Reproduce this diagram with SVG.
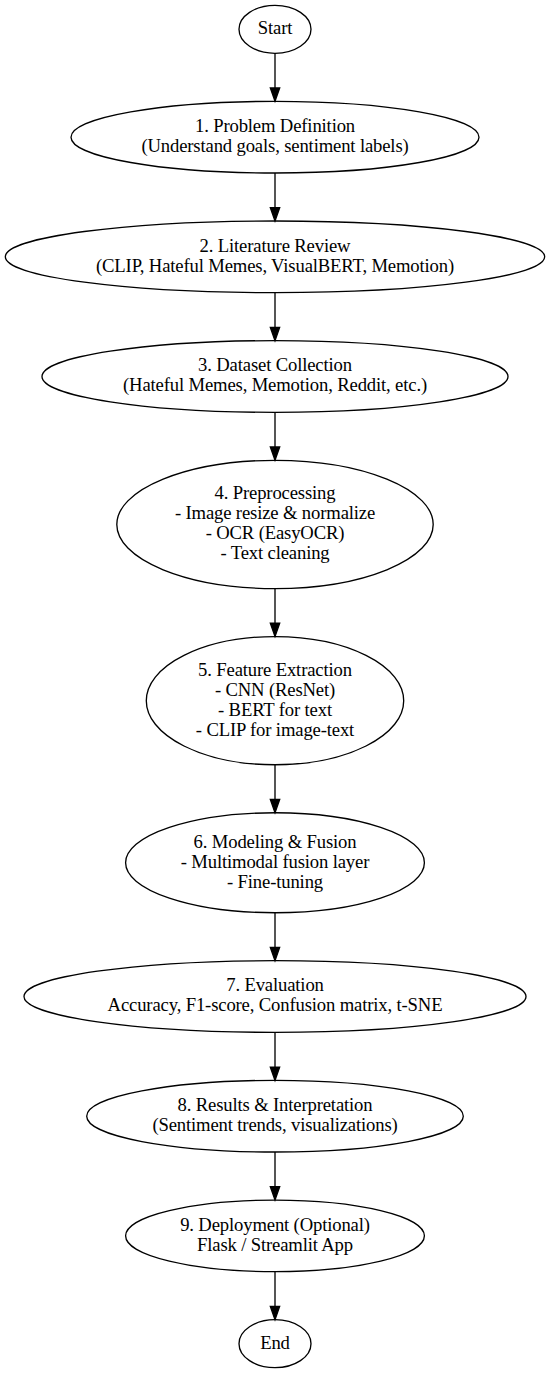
<svg xmlns="http://www.w3.org/2000/svg" width="550" height="1373" viewBox="0 0 550 1373">
<style>
.n ellipse{fill:none;stroke:#000;stroke-width:1.33}
.n text{font-family:"Liberation Serif","Times New Roman",serif;font-size:18.67px;letter-spacing:-0.15px;text-anchor:middle;fill:#000}
.e line{stroke:#000;stroke-width:1.33;marker-end:url(#arr)}
</style>
<defs>
<marker id="arr" markerUnits="userSpaceOnUse" viewBox="-2 -7 18 14" refX="0" refY="0" markerWidth="18" markerHeight="14" orient="auto">
<path d="M0,-4.67 L13.33,0 L0,4.67 Z" fill="#000" stroke="#000" stroke-width="1.33"/>
</marker>
</defs>
<rect width="550" height="1373" fill="#fff"/>
<g class="e" id="edges">
<line x1="275" y1="53.33" x2="275" y2="88"/>
<line x1="275" y1="173" x2="275" y2="207.67"/>
<line x1="275" y1="292.66" x2="275" y2="327.34"/>
<line x1="275" y1="412.33" x2="275" y2="447"/>
<line x1="275" y1="588.55" x2="275" y2="623.22"/>
<line x1="275" y1="764.77" x2="275" y2="799.44"/>
<line x1="275" y1="912.71" x2="275" y2="947.38"/>
<line x1="275" y1="1032.37" x2="275" y2="1067.04"/>
<line x1="275" y1="1152.03" x2="275" y2="1186.7"/>
<line x1="275" y1="1271.7" x2="275" y2="1306.34"/>
</g>
<g class="n" id="start">
<ellipse cx="275" cy="29.33" rx="36" ry="24"/>
<text x="275" y="34.26">Start</text>
</g>
<g class="n" id="n1">
<ellipse cx="275" cy="137.17" rx="204" ry="35.83"/>
<text x="275" y="132.1">1. Problem Definition</text>
<text x="275" y="152.1">(Understand goals, sentiment labels)</text>
</g>
<g class="n" id="n2">
<ellipse cx="275" cy="256.83" rx="269.67" ry="35.83"/>
<text x="275" y="251.76">2. Literature Review</text>
<text x="275" y="271.76">(CLIP, Hateful Memes, VisualBERT, Memotion)</text>
</g>
<g class="n" id="n3">
<ellipse cx="275" cy="376.5" rx="233" ry="35.83"/>
<text x="275" y="371.43">3. Dataset Collection</text>
<text x="275" y="391.43">(Hateful Memes, Memotion, Reddit, etc.)</text>
</g>
<g class="n" id="n4">
<ellipse cx="275" cy="524.44" rx="158.2" ry="64.11"/>
<text x="275" y="499.37">4. Preprocessing</text>
<text x="275" y="519.37">- Image resize &amp; normalize</text>
<text x="275" y="539.37">- OCR (EasyOCR)</text>
<text x="275" y="559.37">- Text cleaning</text>
</g>
<g class="n" id="n5">
<ellipse cx="275" cy="700.66" rx="128.7" ry="64.11"/>
<text x="275" y="675.59">5. Feature Extraction</text>
<text x="275" y="695.59">- CNN (ResNet)</text>
<text x="275" y="715.59">- BERT for text</text>
<text x="275" y="735.59">- CLIP for image-text</text>
</g>
<g class="n" id="n6">
<ellipse cx="275" cy="862.74" rx="149.4" ry="49.97"/>
<text x="275" y="847.67">6. Modeling &amp; Fusion</text>
<text x="275" y="867.67">- Multimodal fusion layer</text>
<text x="275" y="887.67">- Fine-tuning</text>
</g>
<g class="n" id="n7">
<ellipse cx="275" cy="996.54" rx="251" ry="35.83"/>
<text x="275" y="991.47">7. Evaluation</text>
<text x="275" y="1011.47">Accuracy, F1-score, Confusion matrix, t-SNE</text>
</g>
<g class="n" id="n8">
<ellipse cx="275" cy="1116.2" rx="188.3" ry="35.83"/>
<text x="275" y="1111.13">8. Results &amp; Interpretation</text>
<text x="275" y="1131.13">(Sentiment trends, visualizations)</text>
</g>
<g class="n" id="n9">
<ellipse cx="275" cy="1235.87" rx="149.4" ry="35.83"/>
<text x="275" y="1230.8">9. Deployment (Optional)</text>
<text x="275" y="1250.8">Flask / Streamlit App</text>
</g>
<g class="n" id="end">
<ellipse cx="275" cy="1343.67" rx="36" ry="24"/>
<text x="275" y="1348.6">End</text>
</g>
</svg>
